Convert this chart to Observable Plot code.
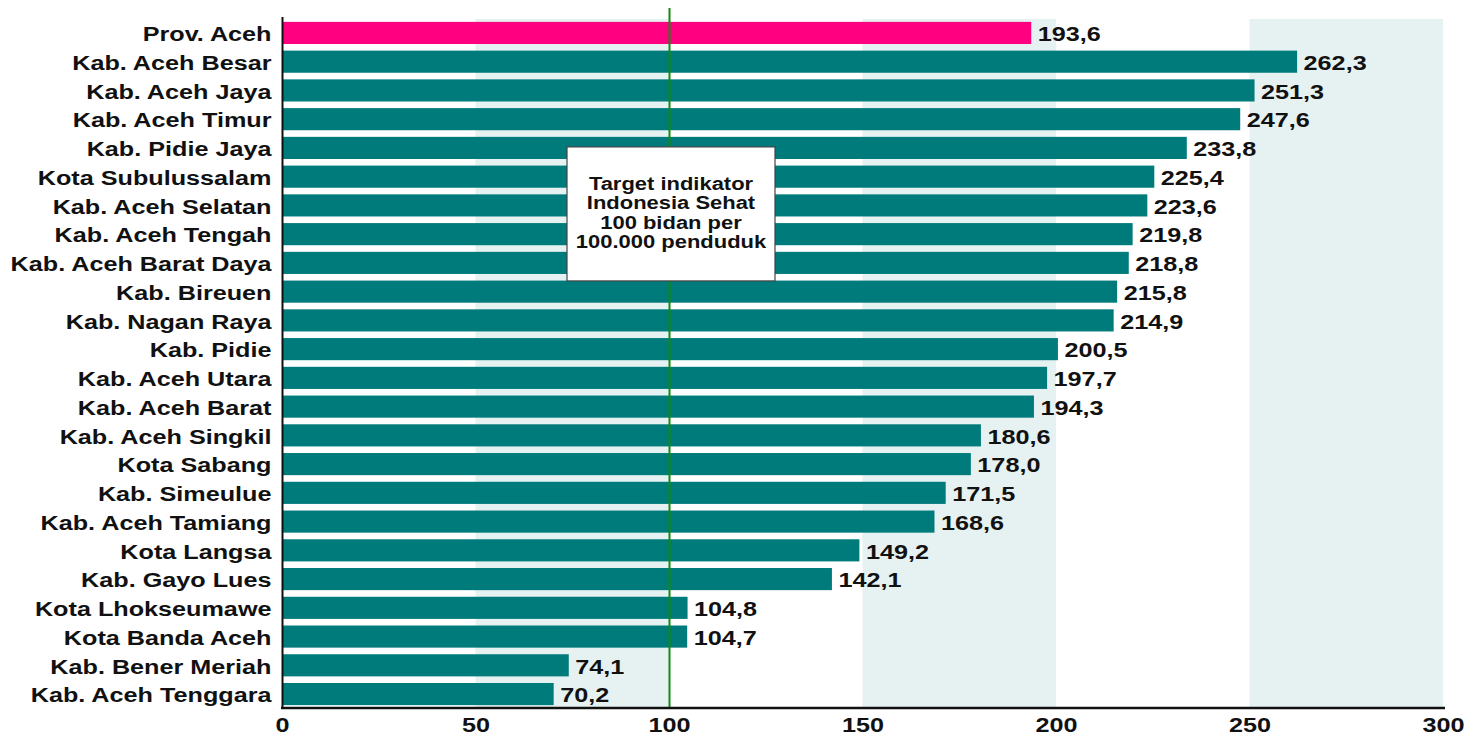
<!DOCTYPE html>
<html><head><meta charset="utf-8">
<script src="https://cdn.jsdelivr.net/npm/d3@7"></script>
<script src="https://cdn.jsdelivr.net/npm/@observablehq/plot@0.6"></script>
<style>body{margin:0;background:#fff;} svg{display:block;}</style>
</head><body><div id="chart"></div>
<script>
const regions = ["Prov. Aceh","Kab. Aceh Besar","Kab. Aceh Jaya","Kab. Aceh Timur","Kab. Pidie Jaya","Kota Subulussalam","Kab. Aceh Selatan","Kab. Aceh Tengah","Kab. Aceh Barat Daya","Kab. Bireuen","Kab. Nagan Raya","Kab. Pidie","Kab. Aceh Utara","Kab. Aceh Barat","Kab. Aceh Singkil","Kota Sabang","Kab. Simeulue","Kab. Aceh Tamiang","Kota Langsa","Kab. Gayo Lues","Kota Lhokseumawe","Kota Banda Aceh","Kab. Bener Meriah","Kab. Aceh Tenggara"];
const values = [193.6,262.3,251.3,247.6,233.8,225.4,223.6,219.8,218.8,215.8,214.9,200.5,197.7,194.3,180.6,178.0,171.5,168.6,149.2,142.1,104.8,104.7,74.1,70.2];
const highlight = "Prov. Aceh";
const target = 100;
const targetLines = ["Target indikator","Indonesia Sehat","100 bidan per","100.000 penduduk"];
const xTicks = [0,50,100,150,200,250,300];
const bands = [[50,100],[150,200],[250,300]];

const data = regions.map((r,i)=>({region:r, value:values[i]}));
const fmt = v => v.toFixed(1).replace(".", ",");
const STRETCH = 1.2;
const FS = 21;

const annotation = (index, scales, values, dimensions) => {
  const g = d3.create("svg:g");
  const cx = scales.x(target) + 2;
  const bw = typeof scales.y.bandwidth === "function" ? scales.y.bandwidth() : (scales.y.bandwidth || 0);
  const top = scales.y(regions[4]) + bw/2 - 1;
  const w = 208, h = 134;
  g.append("rect").attr("x", cx - w/2).attr("y", top).attr("width", w).attr("height", h)
    .attr("fill", "#fff").attr("stroke", "#444").attr("stroke-width", 1.2);
  g.append("text").attr("text-anchor","middle").attr("font-size",18.3).attr("font-weight","bold").attr("fill","#111")
    .attr("class", "stretched")
    .attr("transform", `translate(${cx},${top}) scale(${STRETCH},1)`)
    .selectAll("tspan").data(targetLines).join("tspan")
    .attr("x", 0).attr("y", (d,i)=> 43 + i*19.5).text(d=>d);
  return g.node();
};

const baseline = (index, scales, values, dimensions) => {
  const {width, height, marginLeft, marginRight, marginBottom} = dimensions;
  return d3.create("svg:line")
    .attr("x1", marginLeft - 1).attr("x2", width - marginRight + 2)
    .attr("y1", height - marginBottom).attr("y2", height - marginBottom)
    .attr("stroke", "#111").attr("stroke-width", 2.5).node();
};

const chart = Plot.plot({
  width: 1475, height: 738,
  marginLeft: 282, marginRight: 32, marginTop: 19, marginBottom: 30,
  style: {fontFamily: "'Liberation Sans', Arial, sans-serif", fontWeight: "bold", fontSize: FS + "px", color: "#111", background: "#fff"},
  x: {domain: [0, 300], ticks: xTicks, label: null},
  y: {domain: regions, label: null, paddingInner: 0.23, paddingOuter: 0.1, round: false},
  marks: [
    Plot.rect(bands, {x1: d => d[0], x2: d => d[1], fill: "#e6f2f2"}),
    Plot.barX(data, {x: "value", y: "region", fill: d => d.region === highlight ? "#ff0080" : "#007b7b"}),
    Plot.text(data, {x: "value", y: "region", text: d => fmt(d.value), textAnchor: "start", dx: 6, dy: 1, fill: "#111", fontSize: FS, fontWeight: "bold"}),
    Plot.ruleX([target], {stroke: "#128a12", strokeWidth: 2, insetTop: -11}),
    Plot.ruleX([0], {stroke: "#111", strokeWidth: 2, insetTop: -2}),
    baseline,
    Plot.axisY({tickSize: 0, tickPadding: 11, fontSize: FS, fontWeight: "bold", fill: "#111", dy: 1}),
    Plot.axisX({ticks: xTicks, tickSize: 0, tickPadding: 9, fontSize: FS, fontWeight: "bold", fill: "#111", tickFormat: d => String(d)}),
    annotation
  ]
});
// horizontally stretch glyphs like the reference rendering
chart.querySelectorAll("text").forEach(t => {
  if (t.getAttribute("class") === "stretched") return;
  const tr = t.getAttribute("transform");
  if (tr) t.setAttribute("transform", tr + ` scale(${STRETCH},1)`);
  else {
    const x = +t.getAttribute("x") || 0, y = +t.getAttribute("y") || 0;
    t.removeAttribute("x"); t.removeAttribute("y");
    t.setAttribute("transform", `translate(${x},${y}) scale(${STRETCH},1)`);
  }
});
document.getElementById("chart").append(chart);
</script>
</body></html>
